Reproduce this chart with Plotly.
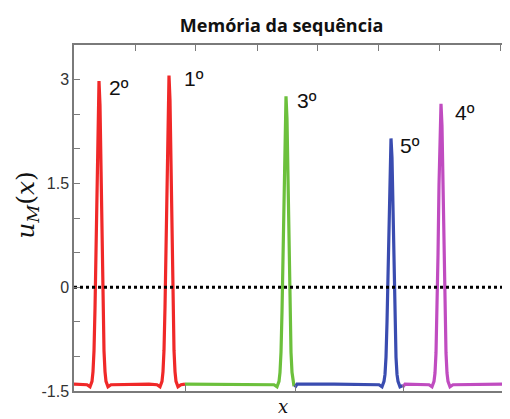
import plotly.graph_objects as go

# ---- data (x in plot units, u_M values) ----
x_red = [0, 8, 13, 16, 18, 19, 20, 21, 22, 23, 24, 25, 26, 27, 28, 29, 30, 31, 32, 34, 37,
         75, 83, 86, 88, 89, 90, 91, 92, 93, 94, 95, 96, 97, 98, 99, 100, 101, 102, 104, 107, 111]
u_red = [-1.40, -1.40, -1.41, -1.44,
         -1.36, -1.22, -0.92, -0.31, 0.61, 1.71, 2.63, 2.98, 2.63, 1.71, 0.61, -0.31, -0.92, -1.22, -1.36,
         -1.44, -1.41, -1.40, -1.41, -1.44,
         -1.36, -1.22, -0.91, -0.29, 0.65, 1.77, 2.70, 3.06, 2.70, 1.77, 0.65, -0.29, -0.91, -1.22, -1.36,
         -1.44, -1.41, -1.40]

x_green = [111, 150, 200, 203, 205, 206, 207, 208, 209, 210, 211, 212, 213, 214, 215, 216, 217, 218, 219, 220]
u_green = [-1.40, -1.40, -1.41, -1.44,
           -1.36, -1.23, -0.94, -0.36, 0.51, 1.55, 2.43, 2.76, 2.43, 1.55, 0.51, -0.36, -0.94, -1.23, -1.36,
           -1.43]

x_blue = [221, 223, 260, 305, 308, 310, 311, 312, 313, 314, 315, 316, 317, 318, 319, 320, 321, 322, 323, 324, 326, 329]
u_blue = [-1.45, -1.40, -1.40, -1.41, -1.44,
          -1.36, -1.26, -1.01, -0.51, 0.23, 1.12, 1.87, 2.15, 1.87, 1.12, 0.23, -0.51, -1.01, -1.26, -1.36,
          -1.44, -1.42]

x_mag = [329, 331, 355, 358, 360, 361, 362, 363, 364, 365, 366, 367, 368, 369, 370, 371, 372, 373, 374, 376, 379, 435]
u_mag = [-1.44, -1.40, -1.41, -1.44,
         -1.36, -1.24, -0.95, -0.39, 0.46, 1.48, 2.33, 2.65, 2.33, 1.48, 0.46, -0.39, -0.95, -1.24, -1.36,
         -1.44, -1.41, -1.40]

labels = ["2º", "1º", "3º", "5º", "4º"]
label_x = [33, 108, 221, 324, 379]
label_y = [2.88, 3.02, 2.70, 2.05, 2.53]

zero_level = 0
x_range = [0, 435]
y_range = [-1.5, 3.5]
y_tickvals = [-1.5, 0, 1.5, 3]
y_ticktext = ["-1.5", "0", "1.5", "3"]
top_tickvals = [61, 121, 183, 243, 304, 365, 426]
bottom_tickvals = [111, 221, 329]

segments = [
    (x_red, u_red, "#f02828"),
    (x_green, u_green, "#6cc03c"),
    (x_blue, u_blue, "#3a4cb0"),
    (x_mag, u_mag, "#c04cc0"),
]

fig = go.Figure()
for xs, us, col in segments:
    fig.add_trace(go.Scatter(x=xs, y=us, mode="lines",
                             line=dict(color=col, width=3.2), showlegend=False,
                             hoverinfo="skip", cliponaxis=False))

# dotted zero line
fig.add_trace(go.Scatter(x=x_range, y=[zero_level, zero_level], mode="lines",
                         line=dict(color="black", width=3, dash="dot"),
                         showlegend=False, hoverinfo="skip"))

# invisible trace for top axis
fig.add_trace(go.Scatter(x=x_range, y=[zero_level, zero_level], xaxis="x2",
                         mode="lines", line=dict(width=0), showlegend=False,
                         hoverinfo="skip", opacity=0))

for t, lx, ly in zip(labels, label_x, label_y):
    fig.add_annotation(x=lx, y=ly, text=t, showarrow=False, xanchor="left",
                       yanchor="middle",
                       font=dict(family="Liberation Sans, Arial", size=21, color="#111"))

axis_col = "#7a7a7a"
fig.update_layout(
    width=502, height=411,
    margin=dict(l=66, r=1, t=37, b=28, autoexpand=False),
    paper_bgcolor="white", plot_bgcolor="white",
    title=dict(text="<b>Memória da sequência</b>", x=0.545, xanchor="center",
               y=0.957, yanchor="middle",
               font=dict(family="Open Sans", size=18, color="#111")),
    xaxis=dict(range=x_range, showgrid=False, zeroline=False, showline=True,
               linecolor=axis_col, linewidth=2, ticks="inside", ticklen=6,
               tickcolor=axis_col, tickvals=bottom_tickvals, showticklabels=False),
    xaxis2=dict(range=x_range, overlaying="x", side="top", showgrid=False,
                zeroline=False, showline=True, linecolor=axis_col, linewidth=1.5,
                ticks="inside", ticklen=6, tickcolor=axis_col,
                tickvals=top_tickvals, showticklabels=False),
    yaxis=dict(range=y_range, showgrid=False, zeroline=False, showline=True,
               linecolor=axis_col, linewidth=1.5, mirror="ticks",
               ticks="inside", ticklen=6, tickcolor=axis_col,
               tickvals=y_tickvals, ticktext=y_ticktext,
               tickfont=dict(family="Liberation Sans, Arial", size=16, color="#333"),
               minor=dict(ticks="inside", ticklen=6, tickcolor=axis_col, dtick=0.5,
                          tick0=0, showgrid=False)),
)

# axis titles
fig.add_annotation(xref="paper", yref="paper", x=0.48, y=-0.044, yanchor="middle",
                   text="<i>x</i>", showarrow=False,
                   font=dict(family="DejaVu Serif", size=18, color="#111"))
fig.add_annotation(xref="paper", yref="paper", x=-0.108, y=0.538, xanchor="center",
                   yanchor="middle", textangle=-90,
                   text="<i>u</i><sub><i>M</i></sub>(<i>x</i>)", showarrow=False,
                   font=dict(family="DejaVu Serif", size=25, color="#111"))

fig.write_html("out.html")
